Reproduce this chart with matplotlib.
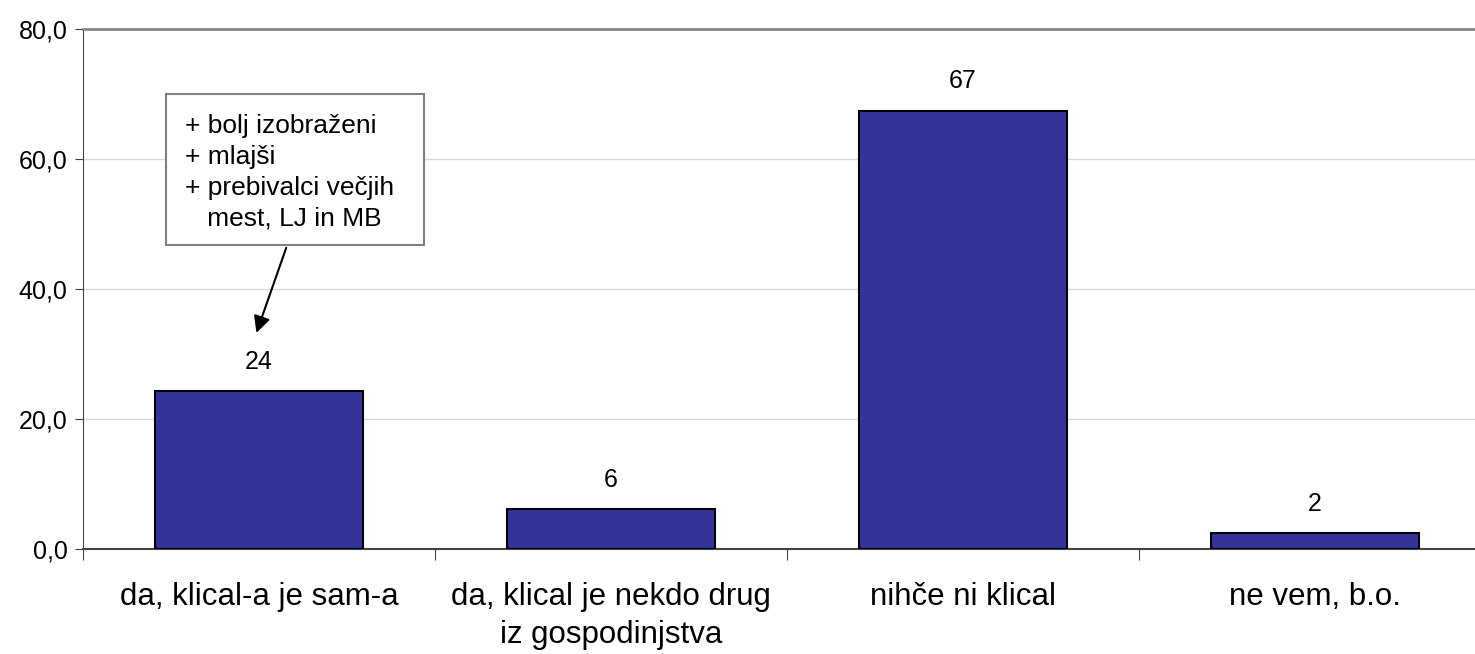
import numpy as np
import matplotlib
matplotlib.use('Agg')
import matplotlib.pyplot as plt
from matplotlib.patches import Rectangle

plt.rcParams['font.family'] = ['Liberation Sans', 'DejaVu Sans']

# data
categories = ['da, klical-a je sam-a', 'da, klical je nekdo drug\niz gospodinjstva',
              'nihče ni klical', 'ne vem, b.o.']
values = [24.3, 6.1, 67.4, 2.4]
value_labels = ['24', '6', '67', '2']
yticks = [0, 20, 40, 60, 80]
ytick_labels = ['0,0', '20,0', '40,0', '60,0', '80,0']
note_lines = ['+ bolj izobraženi', '+ mlajši', '+ prebivalci večjih', '   mest, LJ in MB']

fig = plt.figure(figsize=(14.75, 6.54), dpi=100)
ax = fig.add_axes([83/1475, 105.3/654, 1408/1475, 520/654])

x = np.arange(len(categories))
bars = ax.bar(x, values, width=0.59, color='#333399', edgecolor='black', linewidth=1.5, zorder=3)

for xi, v, lab in zip(x, values, value_labels):
    ax.annotate(lab, (xi, v), xytext=(0, 21), textcoords='offset points',
                ha='center', va='center', fontsize=18)

ax.set_xlim(-0.5, 3.5)
ax.set_ylim(0, 80)
ax.set_yticks(yticks)
ax.set_yticklabels(ytick_labels)
ax.yaxis.grid(True, color='#d9d9d9', linewidth=1, zorder=0)

ax.set_xticks(np.arange(-0.5, 4.0, 1.0))
ax.set_xticklabels([])
ax.set_xticks(x, minor=True)
ax.set_xticklabels(categories, minor=True, fontsize=22.5, linespacing=1.35)
ax.tick_params(axis='x', which='major', length=8, direction='out', color='#444444')
ax.tick_params(axis='x', which='minor', length=0, pad=24)
ax.tick_params(axis='y', length=6, direction='out', color='#444444', pad=5, labelsize=18)

ax.spines['right'].set_visible(False)
ax.spines['top'].set_color('#888888')
ax.spines['top'].set_linewidth(2)
ax.spines['left'].set_color('#444444')
ax.spines['bottom'].set_color('#444444')
ax.spines['bottom'].set_linewidth(1.5)

# note box with arrow
ax.add_patch(Rectangle((-0.264, 46.7), 0.733, 23.2, facecolor='white', edgecolor='#808080',
                       linewidth=1.5, clip_on=False, zorder=4))
for i, line in enumerate(note_lines):
    ax.text(-0.21, 65.0 - i*4.75, line, ha='left', va='center', fontsize=19, zorder=5)
ax.annotate('', xy=(-0.01, 32.8), xytext=(0.08, 46.7),
            arrowprops=dict(arrowstyle='-|>', color='black', lw=1.5, mutation_scale=25), zorder=5)

fig.savefig('out.png', dpi=100)
